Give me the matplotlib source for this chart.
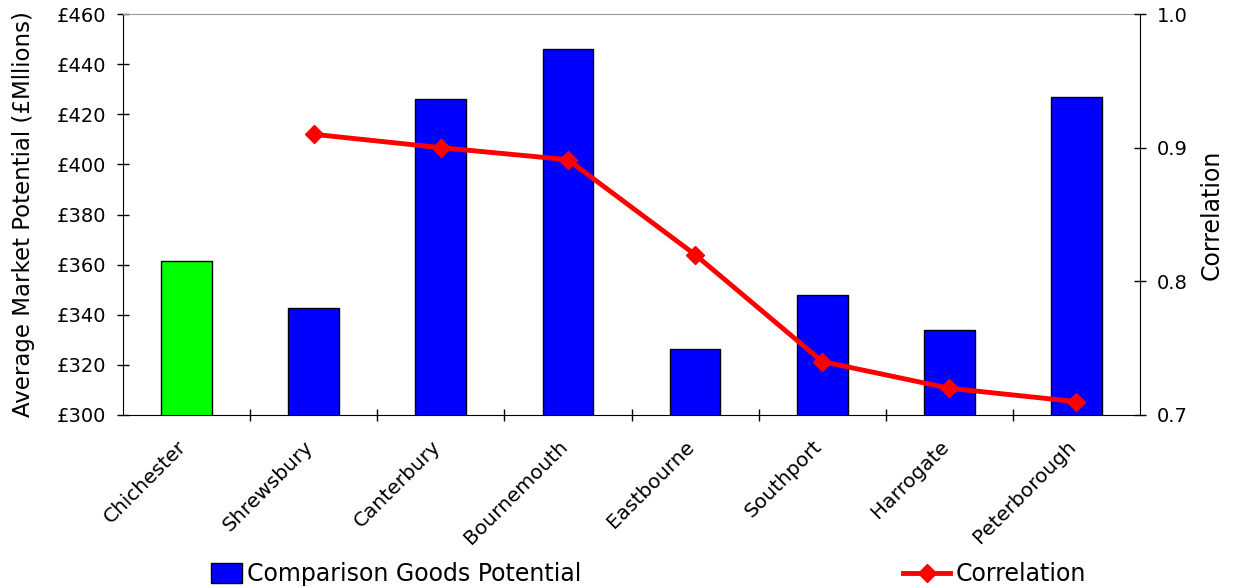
import matplotlib

matplotlib.use("Agg")
import matplotlib.pyplot as plt
from matplotlib.lines import Line2D
from matplotlib.patches import Patch
from matplotlib.transforms import ScaledTranslation

towns = ["Chichester", "Shrewsbury", "Canterbury", "Bournemouth",
         "Eastbourne", "Southport", "Harrogate", "Peterborough"]
potential = [361.5, 342.5, 426.2, 446.0, 326.4, 348.0, 334.0, 426.8]
bar_colors = ["#00FF00"] + ["#0000FF"] * 7
corr_towns = towns[1:]
correlation = [0.910, 0.900, 0.891, 0.820, 0.740, 0.720, 0.710]

plt.rcParams["font.family"] = ["DejaVu Sans"]

fig = plt.figure(figsize=(12.33, 5.88), dpi=100)
ax = fig.add_axes([123 / 1233, 1 - 415 / 588, (1140 - 123) / 1233, (415 - 14) / 588])

xs = list(range(len(towns)))
ax.bar(xs, potential, width=0.4, color=bar_colors, edgecolor="black",
       linewidth=1, zorder=2)
ax.set_xlim(-0.5, len(towns) - 0.5)
ax.set_ylim(300, 460)
ax.set_yticks(range(300, 461, 20))
ax.set_yticklabels([f"£{v}" for v in range(300, 461, 20)], fontsize=14)
ax.set_ylabel("Average Market Potential (£Mllions)", fontsize=16.5, labelpad=16)
# category boundaries get the tick marks, names sit under the bars
ax.set_xticks([x + 0.5 for x in xs[:-1]])
ax.set_xticklabels([])
lab_tr = ax.get_xaxis_transform() + ScaledTranslation(-0.1, -0.22, fig.dpi_scale_trans)
for x, name in zip(xs, towns):
    ax.text(x, 0, name, transform=lab_tr, rotation=45, ha="right", va="top",
            rotation_mode="anchor", fontsize=14.5)
ax.tick_params(axis="x", length=8, direction="inout", width=1)
ax.tick_params(axis="y", length=8, direction="inout", width=1, pad=8)
ax.spines["top"].set_color("#999999")
ax.spines["right"].set_visible(False)

ax2 = ax.twinx()
ax2.plot([towns.index(t) for t in corr_towns], correlation, "-D", color="#FF0000",
         linewidth=3.5, markersize=9, zorder=3)
ax2.set_ylim(0.7, 1.0)
ax2.set_yticks([0.7, 0.8, 0.9, 1.0])
ax2.set_yticklabels(["0.7", "0.8", "0.9", "1.0"], fontsize=14)
ax2.set_ylabel("Correlation", fontsize=17, labelpad=9)
ax2.tick_params(axis="y", length=8, direction="inout", width=1, pad=8)
ax2.spines["top"].set_visible(False)
ax2.spines["left"].set_visible(False)
ax2.spines["bottom"].set_visible(False)

h1 = Patch(facecolor="#0000FF", edgecolor="black")
h2 = Line2D([], [], color="#FF0000", marker="D", linewidth=3.5, markersize=9)
fig.legend([h1], ["Comparison Goods Potential"], loc="center left",
           bbox_to_anchor=(190 / 1233, 1 - 574 / 588), frameon=False,
           fontsize=17, handlelength=1.3, handleheight=0.9, handletextpad=0.2)
fig.legend([h2], ["Correlation"], loc="center left",
           bbox_to_anchor=(882 / 1233, 1 - 574 / 588), frameon=False,
           fontsize=17, handlelength=2.0, handletextpad=0.2)

fig.savefig("out.png", dpi=100)
